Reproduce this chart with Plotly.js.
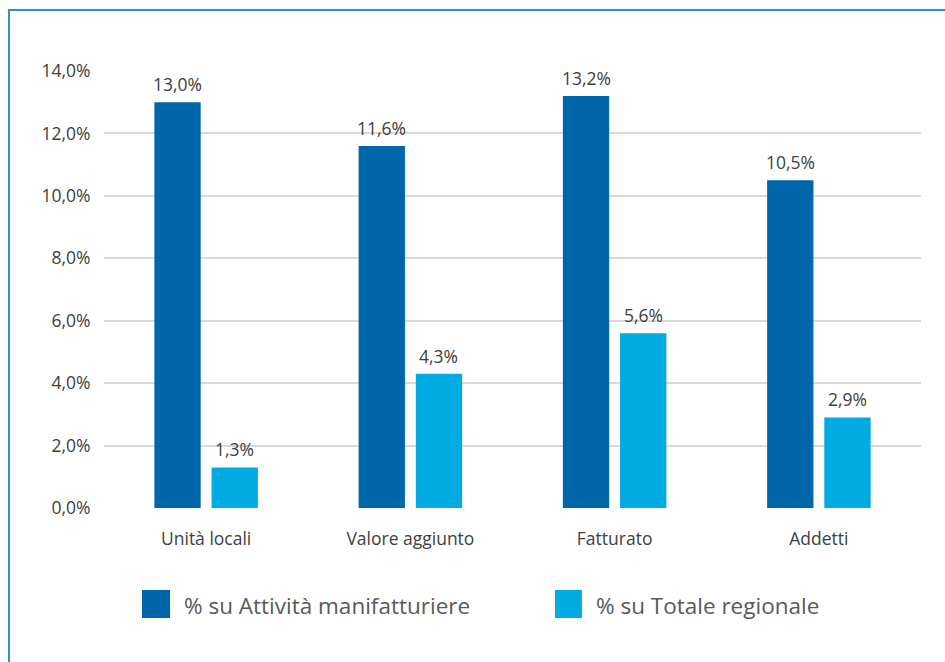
<!DOCTYPE html>
<html>
<head>
<meta charset="utf-8">
<script src="https://cdn.plot.ly/plotly-3.0.1.min.js"></script>
<style>
  html, body { margin: 0; padding: 0; background: #fff; }
  #wrap { position: relative; width: 945px; height: 662px; overflow: hidden; }
  #frame { position: absolute; left: 8px; top: 9px; width: 940px; height: 660px;
           border-left: 2px solid #3a8cc4; border-top: 2px solid #3a8cc4; box-sizing: border-box; pointer-events: none; }
  #chart { position: absolute; left: 0; top: 0; width: 945px; height: 662px; }
</style>
</head>
<body>
<div id="wrap">
  <div id="chart"></div>
  <div id="frame"></div>
</div>
<script>
const categories = ["Unità locali", "Valore aggiunto", "Fatturato", "Addetti"];
const seriesNames = ["% su Attività manifatturiere", "% su Totale regionale"];
const manifatturiere = [13.0, 11.6, 13.2, 10.5];
const totaleRegionale = [1.3, 4.3, 5.6, 2.9];
const yTicks = [0, 2, 4, 6, 8, 10, 12, 14];
const colors = ["#0066aa", "#00aae2"];

const fmt = v => v.toFixed(1).replace(".", ",") + "%";
const textFont = { family: "'Open Sans', Lato, sans-serif", size: 17.5, color: "#404040" };

const seriesVals = [manifatturiere, totaleRegionale];
const traces = seriesVals.map((vals, i) => ({
  type: "bar",
  name: seriesNames[i],
  x: categories,
  y: vals,
  marker: { color: colors[i] },
  showlegend: false,
  hoverinfo: "none"
}));

const shapes = [];
const annotations = [];
// value labels
seriesVals.forEach((vals, i) => {
  vals.forEach((v, j) => {
    annotations.push({ x: categories[j], y: v, xref: "x", yref: "y",
      text: fmt(v), showarrow: false, yanchor: "bottom", yshift: 4,
      xshift: i === 0 ? -28.5 : 28.5, font: textFont });
  });
});
// legend
const legendX = [[0.0465, 0.0808, 0.0955], [0.552, 0.585, 0.600]];
seriesNames.forEach((name, i) => {
  shapes.push({ type: "rect", xref: "paper", yref: "paper",
    x0: legendX[i][0], x1: legendX[i][1], y0: -0.1876, y1: -0.2517,
    fillcolor: colors[i], line: { width: 0 } });
  annotations.push({ xref: "paper", yref: "paper", x: legendX[i][2], y: -0.222,
    xanchor: "left", yanchor: "middle", text: name, showarrow: false,
    font: { family: "'Open Sans', Lato, sans-serif", size: 22.5, color: "#595959" } });
});

const layout = {
  width: 945, height: 662,
  margin: { l: 104, r: 24, t: 71, b: 154, pad: 0 },
  paper_bgcolor: "#ffffff", plot_bgcolor: "#ffffff",
  barmode: "group",
  bargap: 0.44,
  bargroupgap: 0.19,
  font: textFont,
  xaxis: {
    type: "category",
    ticks: "outside", ticklen: 15, tickcolor: "rgba(0,0,0,0)",
    showline: false, showgrid: false, zeroline: false,
    tickfont: textFont
  },
  yaxis: {
    range: [0, 14],
    tickmode: "array",
    tickvals: yTicks,
    ticktext: yTicks.map(fmt),
    showgrid: true, gridcolor: "#d9d9d9", gridwidth: 2,
    zeroline: false, showline: false,
    ticks: "outside", ticklen: 9, tickcolor: "rgba(0,0,0,0)",
    tickfont: textFont
  },
  shapes: shapes,
  annotations: annotations
};

Plotly.newPlot("chart", traces, layout, { displayModeBar: false, staticPlot: true });
</script>
</body>
</html>
